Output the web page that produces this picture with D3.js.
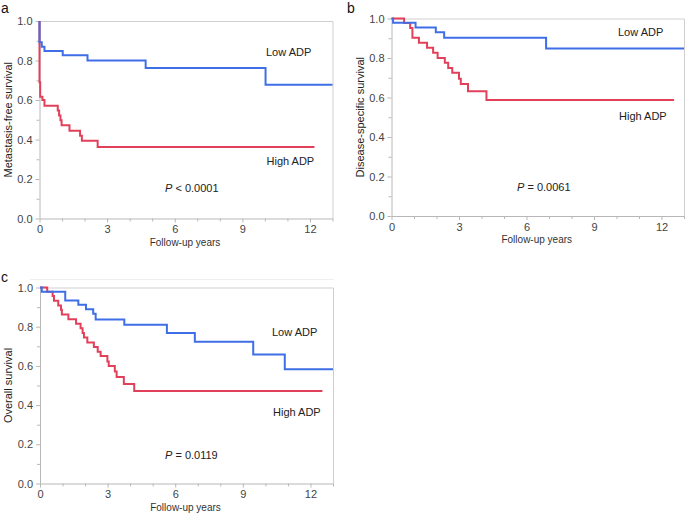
<!DOCTYPE html>
<html>
<head>
<meta charset="utf-8">
<script src="https://cdn.jsdelivr.net/npm/d3@7"></script>
<style>
  body { margin: 0; background: #fff; }
  svg { display: block; font-family: "Liberation Sans", Arial, sans-serif; }
</style>
</head>
<body>
<script>
// Kaplan-Meier steps: [years, survival after that time]
const metastasisLow = [[0, 1], [0, 0.892], [0.10, 0.87], [0.22, 0.848], [1.03, 0.826], [2.13, 0.80], [4.71, 0.762], [10.03, 0.677], [13, 0.677]];
const metastasisHigh = [[0, 1], [0, 0.69], [0.03, 0.617], [0.13, 0.60], [0.22, 0.571], [0.81, 0.547], [0.87, 0.522], [0.93, 0.497], [0.98, 0.472], [1.33, 0.444], [1.80, 0.419], [1.88, 0.394], [2.58, 0.362], [12.2, 0.362]];

const diseaseLow = [[0, 1], [0.07, 0.978], [1.07, 0.955], [1.97, 0.93], [2.34, 0.903], [6.87, 0.848], [13, 0.848]];
const diseaseHigh = [[0, 1], [0.56, 0.977], [0.83, 0.952], [0.93, 0.902], [1.22, 0.877], [1.58, 0.852], [1.85, 0.826], [2.05, 0.80], [2.37, 0.776], [2.52, 0.75], [2.70, 0.725], [3.0, 0.695], [3.08, 0.668], [3.4, 0.632], [4.22, 0.587], [12.56, 0.587]];

const overallLow = [[0, 1], [0.08, 0.978], [1.12, 0.934], [1.70, 0.912], [2.04, 0.889], [2.36, 0.866], [2.47, 0.837], [3.74, 0.81], [5.63, 0.768], [6.87, 0.723], [9.46, 0.658], [10.86, 0.583], [13, 0.583]];
const overallHigh = [[0, 1], [0.32, 0.978], [0.56, 0.956], [0.62, 0.933], [0.81, 0.908], [0.93, 0.886], [0.97, 0.862], [1.26, 0.838], [1.6, 0.815], [1.8, 0.792], [1.89, 0.768], [1.95, 0.745], [2.1, 0.72], [2.39, 0.697], [2.56, 0.672], [2.69, 0.65], [2.99, 0.622], [3.05, 0.60], [3.32, 0.572], [3.40, 0.544], [3.72, 0.508], [4.18, 0.472], [12.53, 0.472]];

const xMajorTicks = [0, 3, 6, 9, 12];
const xMinorTicks = [1, 2, 4, 5, 7, 8, 10, 11, 13];
const yMajorTicks = [0, 0.2, 0.4, 0.6, 0.8, 1.0];
const yMinorTicks = [0.1, 0.3, 0.5, 0.7, 0.9];

const width = 685;
const height = 516;
const blue = '#3f6fe6';
const red = '#e2405a';

const svg = d3.select('body').append('svg')
  .attr('width', width)
  .attr('height', height);

// faint line above panel c, as in the source image
svg.append('line')
  .attr('x1', 30).attr('x2', 334).attr('y1', 279.5).attr('y2', 279.5)
  .attr('stroke', '#eeeeee');

function drawPanel(p) {
  const x = d3.scaleLinear().domain([0, 13]).range([p.left, p.right]);
  const y = d3.scaleLinear().domain([0, 1]).range([p.bottom, p.top]);
  const g = svg.append('g');

  // frame (top and right)
  g.append('path')
    .attr('d', `M${p.left},${p.top + 0.5}H${p.right + 0.5}V${p.bottom}`)
    .attr('fill', 'none')
    .attr('stroke', '#cfcfcf');

  // minor ticks
  g.append('g')
    .attr('transform', `translate(0,${p.bottom})`)
    .call(d3.axisBottom(x).tickValues(xMinorTicks).tickSize(3).tickFormat(''))
    .call(a => a.select('.domain').remove());
  g.append('g')
    .attr('transform', `translate(${p.left},0)`)
    .call(d3.axisLeft(y).tickValues(yMinorTicks).tickSize(3).tickFormat(''))
    .call(a => a.select('.domain').remove());

  // major axes
  const xAxis = g.append('g')
    .attr('transform', `translate(0,${p.bottom})`)
    .call(d3.axisBottom(x).tickValues(xMajorTicks).tickSize(4).tickPadding(3).tickSizeOuter(0));
  const yAxis = g.append('g')
    .attr('transform', `translate(${p.left},0)`)
    .call(d3.axisLeft(y).tickValues(yMajorTicks).tickSize(4).tickPadding(3).tickSizeOuter(0).tickFormat(d3.format('.1f')));

  g.selectAll('.domain').attr('stroke', '#b8b8b8');
  g.selectAll('.tick line').attr('stroke', '#b8b8b8');
  [xAxis, yAxis].forEach(a => a.selectAll('text')
    .attr('fill', '#444')
    .style('font-size', '11px'));

  // survival curves (low ADP drawn last, it sits on top in the figure)
  const line = d3.line()
    .x(d => x(d[0]))
    .y(d => y(d[1]))
    .curve(d3.curveStepAfter);

  g.append('path')
    .datum(p.high)
    .attr('d', line)
    .attr('fill', 'none')
    .attr('stroke', red)
    .attr('stroke-width', 2);

  g.append('path')
    .datum(p.low)
    .attr('d', line)
    .attr('fill', 'none')
    .attr('stroke', blue)
    .attr('stroke-width', 2);

  // axis titles
  g.append('text')
    .attr('x', (p.left + p.right) / 2 - 1)
    .attr('y', p.bottom + 27)
    .attr('text-anchor', 'middle')
    .attr('fill', '#333')
    .style('font-size', '10px')
    .text('Follow-up years');

  g.append('text')
    .attr('transform', `translate(${p.left - 28},${(p.top + p.bottom) / 2}) rotate(-90)`)
    .attr('text-anchor', 'middle')
    .attr('fill', '#222')
    .style('font-size', '11px')
    .text(p.yTitle);

  // labels
  g.append('text')
    .attr('x', p.lowLabel[0]).attr('y', p.lowLabel[1])
    .attr('fill', '#222')
    .style('font-size', '11px')
    .text('Low ADP');
  g.append('text')
    .attr('x', p.highLabel[0]).attr('y', p.highLabel[1])
    .attr('fill', '#222')
    .style('font-size', '11px')
    .text('High ADP');

  const pt = g.append('text')
    .attr('x', p.pLabel[0]).attr('y', p.pLabel[1])
    .attr('fill', '#222')
    .style('font-size', '11px');
  pt.append('tspan').style('font-style', 'italic').text('P');
  pt.append('tspan').text(p.pText);

  // panel letter
  svg.append('text')
    .attr('x', p.letter[0]).attr('y', p.letter[1])
    .attr('fill', '#111')
    .style('font-size', '14px')
    .text(p.name);
}

drawPanel({
  name: 'a', letter: [1, 13],
  left: 39.5, right: 332.5, top: 21, bottom: 218.5,
  low: metastasisLow, high: metastasisHigh,
  yTitle: 'Metastasis-free survival',
  lowLabel: [266, 56], highLabel: [266.5, 165],
  pLabel: [165, 192], pText: ' < 0.0001'
});

drawPanel({
  name: 'b', letter: [347, 13],
  left: 391.5, right: 684, top: 18.5, bottom: 216,
  low: diseaseLow, high: diseaseHigh,
  yTitle: 'Disease-specific survival',
  lowLabel: [618, 36], highLabel: [619, 119.5],
  pLabel: [517, 191], pText: ' = 0.0061'
});

drawPanel({
  name: 'c', letter: [1, 282],
  left: 40, right: 333, top: 287.5, bottom: 483.5,
  low: overallLow, high: overallHigh,
  yTitle: 'Overall survival',
  lowLabel: [272, 336], highLabel: [273, 416],
  pLabel: [165, 459], pText: ' = 0.0119'
});
</script>
</body>
</html>
